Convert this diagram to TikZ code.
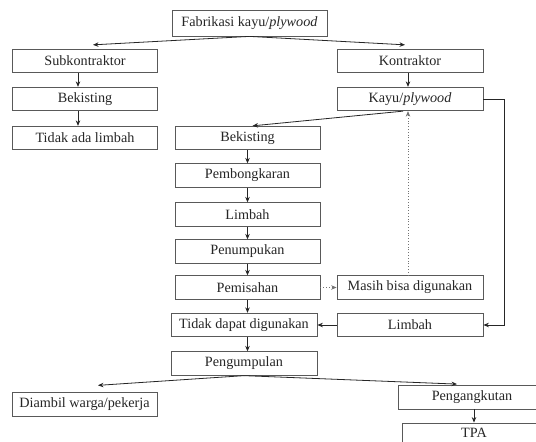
\documentclass[tikz,border=0pt]{standalone}
\usepackage{fontspec}
\setmainfont{Liberation Serif}
\usetikzlibrary{arrows.meta}
\tikzset{
  box/.style={draw=black!65, line width=0.8pt, inner sep=0pt, minimum height=23.5pt,
    text=black!85, font=\fontsize{14.2}{16}\selectfont},
  wbox/.style={box, minimum width=145pt},
  arr/.style={draw=black!85, line width=0.8pt, -{Stealth[length=5.5pt,width=4.5pt]}},
  dotarr/.style={draw=black!55, line width=0.8pt, dotted, -{Stealth[length=5.5pt,width=4.5pt]}},
  wire/.style={draw=black!85, line width=0.8pt}
}
\begin{document}
\begin{tikzpicture}[x=1pt,y=-1pt]
\clip (0,0) rectangle (536,442);
\fill[white] (0,0) rectangle (536,442);
% nodes
\node[box, minimum width=155pt, minimum height=26pt] (fab) at (249.5,23) {Fabrikasi kayu/\textit{plywood}};
\node[wbox] (sub) at (85,61) {Subkontraktor};
\node[wbox, minimum width=146pt] (kon) at (410,61) {Kontraktor};
\node[wbox] (bekL) at (85,99) {Bekisting};
\node[wbox, minimum width=146pt] (kayu) at (410,99) {Kayu/\textit{plywood}};
\node[wbox] (tal) at (85,138) {Tidak ada limbah};
\node[wbox] (bekC) at (247.5,138) {Bekisting};
\node[wbox] (pemb) at (247.5,175.5) {Pembongkaran};
\node[wbox] (limbC) at (247.5,214.5) {Limbah};
\node[wbox] (penum) at (247.5,251.5) {Penumpukan};
\node[wbox] (pemis) at (247.5,287.5) {Pemisahan};
\node[wbox, minimum width=146pt] (masih) at (410,287.5) {Masih bisa digunakan};
\node[wbox, minimum width=146pt] (tdg) at (244,325) {Tidak dapat digunakan};
\node[wbox, minimum width=146pt] (limbR) at (410,325) {Limbah};
\node[wbox, minimum width=146pt] (pengum) at (244,363.5) {Pengumpulan};
\node[wbox] (diambil) at (84.5,404.5) {Diambil warga/pekerja};
\node[box, minimum width=148pt, minimum height=24pt] (pengang) at (472,397) {Pengangkutan};
\node[box, minimum width=144pt, minimum height=24pt] (tpa) at (474,435) {};
\node[text=black!85, font=\fontsize{14.2}{16}\selectfont] (tpatext) at (474,433) {TPA};
% connectors
\draw[arr] (fab.south) -- ([xshift=8pt,yshift=4pt]sub.north);
\draw[arr] (fab.south) -- ([xshift=-5pt,yshift=4pt]kon.north);
\draw[arr] ([xshift=-7pt]sub.south) -- ([xshift=-7pt]bekL.north);
\draw[arr] ([xshift=-7pt]bekL.south) -- ([xshift=-7pt]tal.north);
\draw[arr] ([xshift=-2pt]kon.south) -- ([xshift=-2pt]kayu.north);
\draw[arr] ([xshift=-7pt]kayu.south) -- ([xshift=5pt]bekC.north);
\draw[arr] (bekC.south) -- (pemb.north);
\draw[arr] (pemb.south) -- (limbC.north);
\draw[arr] (limbC.south) -- (penum.north);
\draw[arr] (penum.south) -- (pemis.north);
\draw[arr] (pemis.south) -- (pemis.south |- tdg.north);
\draw[arr] (tdg.south -| pemis.south) -- (pengum.north -| pemis.south);
\draw[dotarr] (pemis.east) -- (masih.west);
\draw[dotarr] ([xshift=-2pt]masih.north) -- ([xshift=-2pt]kayu.south);
\draw[arr] (limbR.west) -- (tdg.east);
\draw[arr] (kayu.east) -- ++(21,0) |- (limbR.east);
\draw[arr] (pengum.south) -- ([xshift=13.5pt,yshift=7pt]diambil.north);
\draw[arr] (pengum.south) -- ([xshift=-15pt,yshift=0.5pt]pengang.north);
\draw[arr] ([xshift=2pt]pengang.south) -- (tpa.north);
\end{tikzpicture}
\end{document}
